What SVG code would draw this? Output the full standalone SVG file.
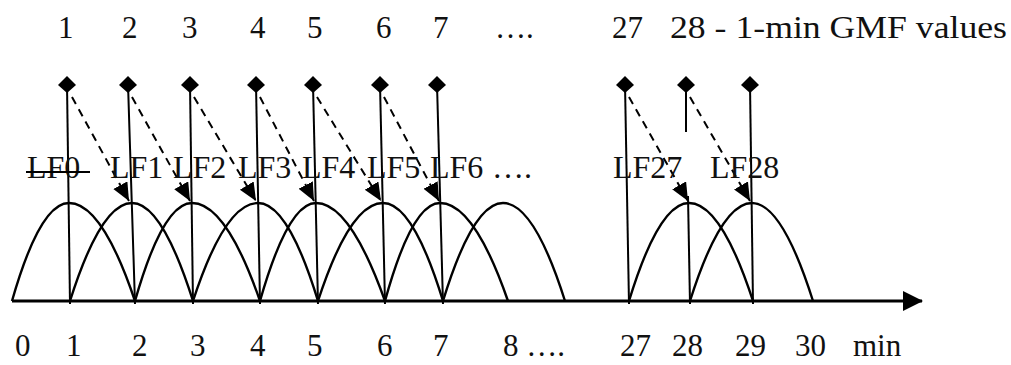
<svg xmlns="http://www.w3.org/2000/svg" width="1011" height="365" viewBox="0 0 1011 365">
<style>
.t{font-family:"Liberation Serif","Times New Roman",serif;fill:#111}
.top{font-size:31px}
.lf{font-size:32px}
.bot{font-size:31px}
.ln{stroke:#000;stroke-width:2;fill:none}
.bump{stroke:#000;stroke-width:2.4;fill:none}
.dash{stroke:#000;stroke-width:2;fill:none;stroke-dasharray:8 6;marker-end:url(#ah)}
.dm{fill:#000}
</style>
<defs>
<marker id="ah" markerUnits="userSpaceOnUse" markerWidth="19" markerHeight="17" refX="18" refY="8" orient="auto" viewBox="0 0 19 17">
<path d="M0,0 L18,8 L0,16 z" fill="#000"/>
</marker>
<marker id="axh" markerUnits="userSpaceOnUse" markerWidth="21" markerHeight="21" refX="19" refY="10" orient="auto" viewBox="0 0 21 21">
<path d="M0,0 L20,10 L0,20 z" fill="#000"/>
</marker>
</defs>
<rect width="1011" height="365" fill="#fff"/>

<g id="axis">
<line x1="12" y1="301" x2="922" y2="301" stroke="#000" stroke-width="3" marker-end="url(#axh)"/>
</g>

<g id="bumps">
<path class="bump" d="M12,301 Q40,203 69,203 Q102,203 135,301"/>
<path class="bump" d="M70,301 Q101,203 132,203 Q162,203 193,301"/>
<path class="bump" d="M135,301 Q163,203 192,203 Q226,203 260,301"/>
<path class="bump" d="M193,301 Q225,203 258,203 Q288,203 318,301"/>
<path class="bump" d="M260,301 Q288,203 316,203 Q350,203 385,301"/>
<path class="bump" d="M318,301 Q350,203 383,203 Q413,203 443,301"/>
<path class="bump" d="M385,301 Q412,203 440,203 Q474,203 508,301"/>
<path class="bump" d="M443,301 Q473,203 503,203 Q534,203 565,301"/>
<path class="bump" d="M629,301 Q659,203 689,203 Q721,203 753,301"/>
<path class="bump" d="M690,301 Q721,203 752,203 Q782,203 813,301"/>
</g>

<g id="v1"><line class="ln" x1="67" y1="84" x2="70" y2="304"/><polygon class="dm" points="67,76 76,85 67,93 58,85"/></g>
<g id="v2"><line class="ln" x1="128" y1="84" x2="135" y2="304"/><polygon class="dm" points="128,76 137,85 128,93 119,85"/></g>
<g id="v3"><line class="ln" x1="190" y1="84" x2="193" y2="304"/><polygon class="dm" points="190,76 199,85 190,93 181,85"/></g>
<g id="v4"><line class="ln" x1="256" y1="84" x2="260" y2="304"/><polygon class="dm" points="256,76 265,85 256,93 247,85"/></g>
<g id="v5"><line class="ln" x1="313" y1="84" x2="318" y2="304"/><polygon class="dm" points="313,76 322,85 313,93 304,85"/></g>
<g id="v6"><line class="ln" x1="380" y1="84" x2="385" y2="304"/><polygon class="dm" points="380,76 389,85 380,93 371,85"/></g>
<g id="v7"><line class="ln" x1="437" y1="84" x2="443" y2="304"/><polygon class="dm" points="437,76 446,85 437,93 428,85"/></g>
<g id="v27"><line class="ln" x1="625" y1="84" x2="629" y2="304"/><polygon class="dm" points="625,76 634,85 625,93 616,85"/></g>
<g id="v28"><line class="ln" x1="686" y1="84" x2="686" y2="132"/><line class="ln" x1="688" y1="196" x2="690" y2="304"/><polygon class="dm" points="686,76 695,85 686,93 677,85"/></g>
<g id="v29"><line class="ln" x1="750" y1="84" x2="753" y2="304"/><polygon class="dm" points="750,76 759,85 750,93 741,85"/></g>

<g id="connectors">
<line class="dash" x1="72" y1="97" x2="129" y2="201"/>
<line class="dash" x1="132" y1="97" x2="190" y2="201"/>
<line class="dash" x1="194" y1="97" x2="256" y2="201"/>
<line class="dash" x1="260" y1="97" x2="314" y2="201"/>
<line class="dash" x1="317" y1="97" x2="381" y2="201"/>
<line class="dash" x1="384" y1="97" x2="439" y2="201"/>
<line class="dash" x1="629" y1="97" x2="688" y2="201"/>
<line class="dash" x1="690" y1="97" x2="750" y2="201"/>
</g>

<g id="top-labels" class="t top">
<text x="58" y="38">1</text>
<text x="122" y="38">2</text>
<text x="182" y="38">3</text>
<text x="250" y="38">4</text>
<text x="307" y="38">5</text>
<text x="376" y="38">6</text>
<text x="433" y="38">7</text>
<text x="495" y="38">….</text>
<text x="612" y="38">27</text>
<text x="670" y="38" textLength="337" lengthAdjust="spacingAndGlyphs">28 - 1-min GMF values</text>
</g>

<g id="lf-labels" class="t lf">
<text x="27" y="178">LF0</text>
<line x1="26" y1="172" x2="90" y2="172" stroke="#000" stroke-width="2"/>
<text x="110" y="178">LF1</text>
<text x="173" y="178">LF2</text>
<text x="238" y="178">LF3</text>
<text x="302" y="178">LF4</text>
<text x="367" y="178">LF5</text>
<text x="430" y="178">LF6</text>
<text x="492" y="178">….</text>
<text x="613" y="178">LF27</text>
<text x="710" y="178">LF28</text>
</g>

<g id="axis-labels" class="t bot">
<text x="15" y="356">0</text>
<text x="66" y="356">1</text>
<text x="132" y="356">2</text>
<text x="190" y="356">3</text>
<text x="250" y="356">4</text>
<text x="307" y="356">5</text>
<text x="377" y="356">6</text>
<text x="433" y="356">7</text>
<text x="503" y="356">8 ….</text>
<text x="620" y="356">27</text>
<text x="672" y="356">28</text>
<text x="735" y="356">29</text>
<text x="795" y="356">30</text>
<text x="853" y="356">min</text>
</g>
</svg>
